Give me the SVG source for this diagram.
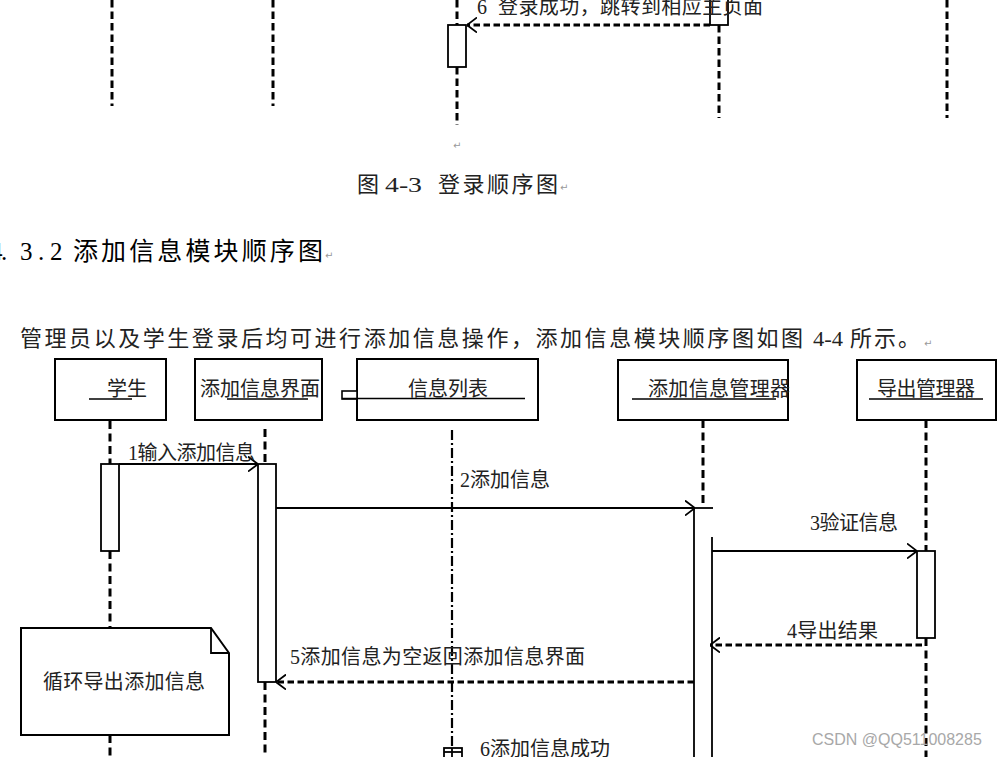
<svg xmlns="http://www.w3.org/2000/svg" width="1002" height="757" viewBox="0 0 1002 757">
<defs>
<style>
.box{fill:#fff;stroke:#000;stroke-width:2}
.act{fill:#fff;stroke:#000;stroke-width:1.8}
.ul{stroke:#000;stroke-width:1.6;fill:none}
.life{stroke:#000;stroke-width:3;stroke-dasharray:8 4.5;fill:none}
.lifeT{stroke:#000;stroke-width:3;stroke-dasharray:7.5 4;fill:none}
.life2{stroke:#000;stroke-width:2.2;stroke-dasharray:10 3 2 3;fill:none}
.ln{stroke:#000;stroke-width:1.8;fill:none}
.ret{stroke:#000;stroke-width:2.8;stroke-dasharray:6.5 3.5;fill:none}
.t{font-family:"Liberation Serif","Noto Sans CJK SC",serif;font-size:20px;fill:#222}
.doc{font-family:"Liberation Serif","Noto Sans CJK SC",serif;font-size:22px;fill:#222}
.pm{font-family:"DejaVu Sans",sans-serif;font-size:10px;fill:#999}
</style>
<marker id="ah" viewBox="0 0 10 16" refX="10" refY="8" markerWidth="10" markerHeight="16" markerUnits="userSpaceOnUse" orient="auto"><path d="M0,0.5 L10,8 L0,15.5" fill="none" stroke="#000" stroke-width="1.8"/></marker>
</defs>
<rect width="1002" height="757" fill="#fff"/>

<g id="top-diagram">
<line class="lifeT" x1="112" y1="0" x2="112" y2="106"/>
<line class="lifeT" x1="273" y1="0" x2="273" y2="106"/>
<line class="lifeT" x1="457" y1="0" x2="457" y2="25"/>
<rect class="act" x="448" y="25" width="18" height="42"/>
<line class="lifeT" x1="457" y1="67" x2="457" y2="125"/>
<rect class="act" x="710" y="-3" width="18" height="28"/>
<line class="lifeT" x1="719" y1="25" x2="719" y2="118"/>
<line class="lifeT" x1="947" y1="0" x2="947" y2="118"/>
<line class="ret" x1="710" y1="25" x2="467" y2="25" marker-end="url(#ah)"/>
<text class="t" x="477" y="14">6</text>
<text class="t" x="498" y="14" textLength="265" lengthAdjust="spacing">登录成功，跳转到相应主页面</text>
<text class="pm" x="453" y="149">↵</text>
</g>

<g id="doc-text">
<text class="doc" x="357" y="192">图</text>
<text class="doc" x="385" y="192" textLength="37" lengthAdjust="spacingAndGlyphs">4-3</text>
<text class="doc" x="438" y="192" textLength="120" lengthAdjust="spacing">登录顺序图</text>
<text class="pm" x="560" y="191">↵</text>
<text font-family="Liberation Serif, serif" font-size="25" fill="#000" x="-10 1 20 38 50" y="260">4.3.2</text>
<text font-family="Liberation Serif, Noto Sans CJK SC, serif" font-size="25" fill="#000" x="73" y="260" textLength="250" lengthAdjust="spacing">添加信息模块顺序图</text>
<text class="pm" x="325" y="259">↵</text>
<text class="doc" x="20" y="346" textLength="783" lengthAdjust="spacing">管理员以及学生登录后均可进行添加信息操作，添加信息模块顺序图如图</text>
<text class="doc" x="813" y="346" textLength="30" lengthAdjust="spacingAndGlyphs">4-4</text>
<text class="doc" x="850" y="346" textLength="70" lengthAdjust="spacing">所示。</text>
<text class="pm" x="924" y="347">↵</text>
</g>

<g id="node-student">
<rect class="box" x="55" y="359" width="111" height="61"/>
<text class="t" x="107" y="396">学生</text>
<line class="ul" x1="89" y1="399" x2="132" y2="399"/>
</g>

<g id="node-add-ui">
<rect class="box" x="195" y="359" width="127" height="61"/>
<text class="t" x="200" y="396" textLength="120" lengthAdjust="spacing">添加信息界面</text>
<line class="ul" x1="227" y1="399" x2="308" y2="399"/>
</g>

<g id="node-info-list">
<rect class="box" x="357" y="359" width="181" height="61"/>
<rect fill="#fff" stroke="#000" stroke-width="1.6" x="342" y="391" width="15" height="8"/>
<text class="t" x="408" y="396" textLength="80" lengthAdjust="spacing">信息列表</text>
<line class="ul" x1="342" y1="398.5" x2="525" y2="398.5"/>
</g>

<g id="node-add-manager">
<rect class="box" x="618" y="360" width="170" height="60"/>
<text class="t" x="648" y="396" textLength="142" lengthAdjust="spacing">添加信息管理器</text>
<line class="ul" x1="632" y1="399" x2="776" y2="399"/>
</g>

<g id="node-export-manager">
<rect class="box" x="857" y="360" width="139" height="60"/>
<text class="t" x="877" y="396" textLength="98" lengthAdjust="spacing">导出管理器</text>
<line class="ul" x1="869" y1="399" x2="983" y2="399"/>
</g>

<g id="note-loop">
<path d="M21,628 L211,628 L229,653 L229,735 L21,735 Z" fill="#fff" stroke="#000" stroke-width="2"/>
<path d="M211,628 L211,653 L229,653" fill="none" stroke="#000" stroke-width="1.8"/>
<text class="t" x="43" y="689" textLength="162" lengthAdjust="spacing">循环导出添加信息</text>
</g>

<g id="lifelines">
<line class="life" x1="110" y1="421" x2="110" y2="464"/>
<rect class="act" x="101" y="464" width="18" height="87"/>
<line class="life" x1="110" y1="551" x2="110" y2="628"/>
<line class="life" x1="110" y1="735" x2="110" y2="757"/>
<line class="life" x1="265" y1="429" x2="265" y2="464"/>
<rect class="act" x="258" y="464" width="18" height="218"/>
<line class="life" x1="265" y1="682" x2="265" y2="757"/>
<line class="life2" x1="452" y1="430" x2="452" y2="748"/>
<rect class="act" x="444" y="748" width="18" height="14"/>
<line class="ln" x1="444" y1="752" x2="462" y2="752" stroke-width="1.2"/>
<line class="ln" x1="452" y1="748" x2="452" y2="757"/>
<line class="life" x1="703" y1="420" x2="703" y2="505"/>
<line class="ln" x1="694" y1="508" x2="694" y2="757"/>
<line class="ln" x1="712" y1="537" x2="712" y2="757"/>
<line class="life" x1="926" y1="420" x2="926" y2="551"/>
<rect class="act" x="917" y="551" width="18" height="87"/>
<line class="life" x1="926" y1="638" x2="926" y2="757"/>
</g>

<g id="connectors">
<line class="ln" x1="119" y1="464" x2="258" y2="464" marker-end="url(#ah)"/>
<text class="t" x="128" y="460" textLength="127" lengthAdjust="spacing">1输入添加信息</text>
<line class="ln" x1="276" y1="508" x2="695" y2="508" marker-end="url(#ah)"/>
<line class="ln" x1="694" y1="508" x2="713" y2="508"/>
<text class="t" x="460" y="487" textLength="90" lengthAdjust="spacing">2添加信息</text>
<line class="ln" x1="712" y1="551" x2="917" y2="551" marker-end="url(#ah)"/>
<text class="t" x="810" y="530" textLength="88" lengthAdjust="spacing">3验证信息</text>
<line class="ret" x1="922" y1="645" x2="710" y2="645" marker-end="url(#ah)"/>
<text class="t" x="787" y="638" textLength="91" lengthAdjust="spacing">4导出结果</text>
<line class="ret" x1="694" y1="682" x2="276" y2="682" marker-end="url(#ah)"/>
<text class="t" x="290" y="664" textLength="295" lengthAdjust="spacing">5添加信息为空返回添加信息界面</text>
<text class="t" x="480" y="756" textLength="130" lengthAdjust="spacing">6添加信息成功</text>
</g>

<text x="812" y="745" font-family="Liberation Sans, Arial, sans-serif" font-size="16" fill="#a8a8a8">CSDN @QQ511008285</text>
</svg>
